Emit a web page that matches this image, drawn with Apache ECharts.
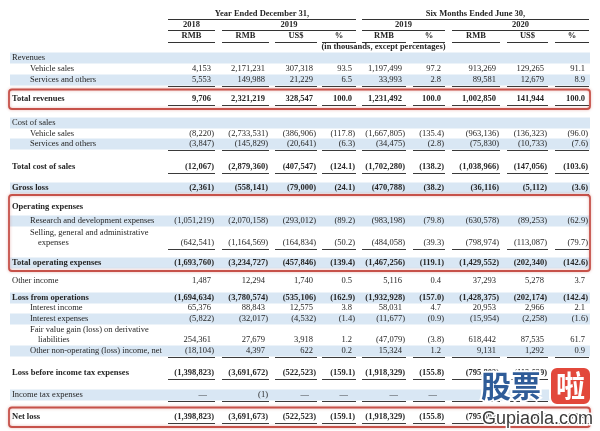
<!DOCTYPE html>
<html><head><meta charset="utf-8">
<script src="https://cdn.jsdelivr.net/npm/echarts@6/dist/echarts.min.js"></script>
<style>html,body{margin:0;padding:0;background:#fff}#c{width:600px;height:431px}</style>
</head><body><div id="c"></div>
<script>
// ---------- DATA ----------
const rowLabels = [
  ['Revenues'], ['Vehicle sales'], ['Services and others'], ['Total revenues'],
  ['Cost of sales'], ['Vehicle sales'], ['Services and others'], ['Total cost of sales'], ['Gross loss'],
  ['Operating expenses'], ['Research and development expenses'], ['Selling, general and administrative', 'expenses'],
  ['Total operating expenses'], ['Other income'], ['Loss from operations'], ['Interest income'], ['Interest expenses'],
  ['Fair value gain (loss) on derivative', 'liabilities'], ['Other non-operating (loss) income, net'],
  ['Loss before income tax expenses'], ['Income tax expenses'], ['Net loss']
];
const headingRows = [0, 4, 9];
const fy2018Rmb = [null, 4153, 5553, 9706, null, -8220, -3847, -12067, -2361, null, -1051219, -642541, -1693760, 1487, -1694634, 65376, -5822, 254361, -18104, -1398823, null, -1398823];
const fy2019Rmb = [null, 2171231, 149988, 2321219, null, -2733531, -145829, -2879360, -558141, null, -2070158, -1164569, -3234727, 12294, -3780574, 88843, -32017, 27679, 4397, -3691672, -1, -3691673];
const fy2019Usd = [null, 307318, 21229, 328547, null, -386906, -20641, -407547, -79000, null, -293012, -164834, -457846, 1740, -535106, 12575, -4532, 3918, 622, -522523, null, -522523];
const fy2019Pct = [null, 93.5, 6.5, 100.0, null, -117.8, -6.3, -124.1, -24.1, null, -89.2, -50.2, -139.4, 0.5, -162.9, 3.8, -1.4, 1.2, 0.2, -159.1, null, -159.1];
const h2019Rmb = [null, 1197499, 33993, 1231492, null, -1667805, -34475, -1702280, -470788, null, -983198, -484058, -1467256, 5116, -1932928, 58031, -11677, -47079, 15324, -1918329, null, -1918329];
const h2019Pct = [null, 97.2, 2.8, 100.0, null, -135.4, -2.8, -138.2, -38.2, null, -79.8, -39.3, -119.1, 0.4, -157.0, 4.7, -0.9, -3.8, 1.2, -155.8, null, -155.8];
const h2020Rmb = [null, 913269, 89581, 1002850, null, -963136, -75830, -1038966, -36116, null, -630578, -798974, -1429552, 37293, -1428375, 20953, -15954, 618442, 9131, -795803, null, -795803];
const h2020Usd = [null, 129265, 12679, 141944, null, -136323, -10733, -147056, -5112, null, -89253, -113087, -202340, 5278, -202174, 2966, -2258, 87535, 1292, -112639, null, -112639];
const h2020Pct = [null, 91.1, 8.9, 100.0, null, -96.0, -7.6, -103.6, -3.6, null, -62.9, -79.7, -142.6, 3.7, -142.4, 2.1, -1.6, 61.7, 0.9, -79.4, null, -79.4];
const columns = [fy2018Rmb, fy2019Rmb, fy2019Usd, fy2019Pct, h2019Rmb, h2019Pct, h2020Rmb, h2020Usd, h2020Pct];
const colIsPct = [false, false, false, true, false, true, false, false, true];
const unitLabels = ['RMB', 'RMB', 'US$', '%', 'RMB', '%', 'RMB', 'US$', '%'];
const yearLabels = [['2018', 0, 0], ['2019', 1, 3], ['2019', 4, 5], ['2020', 6, 8]];
const periodLabels = [['Year Ended December 31,', 0, 3], ['Six Months Ended June 30,', 4, 8]];
const unitNote = ['(in thousands, except percentages)', 3, 5];
const boxedRows = [[3, 3], [9, 12], [21, 21]];

// ---------- LAYOUT / STYLE ----------
const colLeft = [168, 222, 275, 322, 362, 413, 452, 507, 555];
const colRight = [214, 268, 316, 355, 405, 444, 499, 547, 588];
const rowY = [58, 69, 80, 99, 123, 134, 144, 167, 188, 207, 221, 243, 263, 281, 298, 308, 319, 340, 351, 373, 395, 417];
const rowIndent = [0, 1, 1, 0, 0, 1, 1, 0, 0, 0, 1, 1, 0, 0, 0, 1, 1, 1, 1, 0, 0, 0];
const rowBold = [0, 0, 0, 1, 0, 0, 0, 1, 1, 1, 0, 0, 1, 0, 1, 0, 0, 0, 0, 1, 0, 1];
const rowBand = [1, 0, 1, 0, 1, 0, 1, 0, 1, 0, 1, 0, 1, 0, 1, 0, 1, 0, 1, 0, 1, 0];
const rowUnder = [0, 0, 1, 1, 0, 0, 1, 1, 1, 0, 0, 1, 0, 0, 0, 0, 0, 0, 1, 1, 1, 1];
const FONT = '"Liberation Serif", "Times New Roman", serif';
const FS = 8.5;
const TXT = '#262626';
const BAND = '#d9e7f4';
const RED = '#c6524a';

function fmt(v, pct) {
  if (v == null) return '\u2014';
  const a = Math.abs(v);
  const s = pct ? a.toFixed(1) : a.toLocaleString('en-US');
  return v < 0 ? '(' + s + ')' : s;
}
function font(bold) { return (bold ? 'bold ' : '') + FS + 'px ' + FONT; }
function txt(x, y, text, bold, align) {
  return { type: 'text', x: x, y: y, style: { text: text, fill: TXT, font: font(bold), align: align || 'left', verticalAlign: 'middle', textAlign: align || 'left', textVerticalAlign: 'middle' } };
}
function hline(x1, x2, y, color, w) {
  return { type: 'line', shape: { x1: x1, y1: Math.round(y) + 0.5, x2: x2, y2: Math.round(y) + 0.5 }, style: { stroke: color || '#333', lineWidth: w || 1 } };
}

const chart = echarts.init(document.getElementById('c'), null, { renderer: 'canvas' });

const bandSeries = {
  type: 'custom', coordinateSystem: 'cartesian2d', clip: false, silent: true, z: 1,
  data: rowLabels.map((_, i) => [i]),
  renderItem: function (params, api) {
    const i = api.value(0);
    if (!rowBand[i]) return { type: 'group', children: [] };
    const p1 = api.coord([10, rowY[i] - 5.5]);
    const p2 = api.coord([590, rowY[i] + 5.5]);
    return { type: 'rect', shape: { x: p1[0], y: p1[1], width: p2[0] - p1[0], height: p2[1] - p1[1] }, style: { fill: BAND } };
  }
};

const bodySeries = {
  type: 'custom', coordinateSystem: 'cartesian2d', clip: false, silent: true, z: 3,
  data: rowLabels.map((_, i) => [i]),
  renderItem: function (params, api) {
    const i = api.value(0);
    const ch = [];
    const bold = !!rowBold[i];
    const lines = rowLabels[i];
    const lx = rowIndent[i] ? 30 : 12;
    lines.forEach(function (t, k) {
      const yy = rowY[i] - (lines.length - 1 - k) * 10;
      const x = k > 0 ? lx + 8 : lx;
      const p = api.coord([x, yy]);
      ch.push(txt(p[0], p[1], t, bold, 'left'));
    });
    if (headingRows.indexOf(i) < 0) {
      columns.forEach(function (col, c) {
        const v = col[i];
        const s = fmt(v, colIsPct[c]);
        const xr = v == null ? colRight[c] - 7 : (v < 0 ? colRight[c] : colRight[c] - 3);
        const p = api.coord([xr, rowY[i]]);
        ch.push(txt(p[0], p[1], s, bold, 'right'));
        if (rowUnder[i]) {
          const a = api.coord([colLeft[c], rowY[i] + 6]);
          const b = api.coord([colRight[c] + 1, rowY[i] + 6]);
          ch.push(hline(a[0], b[0], a[1], '#3a3a3a', 1));
        }
      });
    }
    return { type: 'group', children: ch };
  }
};

const headerItems = [];
periodLabels.forEach(function (h) { headerItems.push({ t: h[0], c0: h[1], c1: h[2], y: 14, ly: 19 }); });
yearLabels.forEach(function (h) { headerItems.push({ t: h[0], c0: h[1], c1: h[2], y: 24.5, ly: 30 }); });
unitLabels.forEach(function (u, c) { headerItems.push({ t: u, c0: c, c1: c, y: 36, ly: 42 }); });
headerItems.push({ t: unitNote[0], c0: unitNote[1], c1: unitNote[2], y: 47, ly: null });

const headerSeries = {
  type: 'custom', coordinateSystem: 'cartesian2d', clip: false, silent: true, z: 3,
  data: headerItems.map((_, i) => [i]),
  renderItem: function (params, api) {
    const h = headerItems[api.value(0)];
    const x0 = colLeft[h.c0], x1 = colRight[h.c1] + 1;
    const p = api.coord([(x0 + x1) / 2, h.y]);
    const ch = [txt(p[0], p[1], h.t, true, 'center')];
    if (h.ly != null) {
      const a = api.coord([x0, h.ly]);
      const b = api.coord([x1, h.ly]);
      ch.push(hline(a[0], b[0], a[1], '#333', 1));
    }
    return { type: 'group', children: ch };
  }
};

const boxSeries = {
  type: 'custom', coordinateSystem: 'cartesian2d', clip: false, silent: true, z: 4,
  data: boxedRows.map((_, i) => [i]),
  renderItem: function (params, api) {
    const b = boxedRows[api.value(0)];
    const top = rowY[b[0]] - (b[0] === b[1] ? 9.5 : 12);
    const bot = rowY[b[1]] + (b[0] === b[1] ? 10 : 8);
    const p1 = api.coord([9, top]);
    const p2 = api.coord([590, bot]);
    return { type: 'rect', shape: { x: p1[0], y: p1[1], width: p2[0] - p1[0], height: p2[1] - p1[1], r: 3 },
      style: { fill: 'none', stroke: RED, lineWidth: 1.8, shadowBlur: 3, shadowColor: 'rgba(198,82,74,0.45)' } };
  }
};

chart.setOption({
  animation: false,
  backgroundColor: '#ffffff',
  grid: { left: 0, right: 0, top: 0, bottom: 0 },
  xAxis: { type: 'value', min: 0, max: 600, show: false },
  yAxis: { type: 'value', min: 0, max: 431, inverse: true, show: false },
  series: [bandSeries, headerSeries, bodySeries, boxSeries],
  graphic: {
    elements: [
      { type: 'text', x: 481, y: 386, z: 100, style: { text: '股票', font: 'bold 30px "Noto Sans CJK SC"', fill: '#2f5c98', stroke: '#ffffff', lineWidth: 4, verticalAlign: 'middle', textVerticalAlign: 'middle' } },
      { type: 'rect', z: 100, shape: { x: 550, y: 367, width: 41, height: 38, r: 7 }, style: { fill: '#e2483b', stroke: '#ffffff', lineWidth: 2 } },
      { type: 'text', x: 570.5, y: 386, z: 101, style: { text: '啦', font: 'bold 29px "Noto Sans CJK SC"', fill: '#ffffff', align: 'center', textAlign: 'center', verticalAlign: 'middle', textVerticalAlign: 'middle' } },
      { type: 'text', x: 482, y: 419, z: 100, style: { text: 'Gupiaola.com', font: '18px "Liberation Sans"', fill: '#3b3b3b', stroke: '#ffffff', lineWidth: 3, verticalAlign: 'middle', textVerticalAlign: 'middle' } }
    ]
  }
});
</script></body></html>
